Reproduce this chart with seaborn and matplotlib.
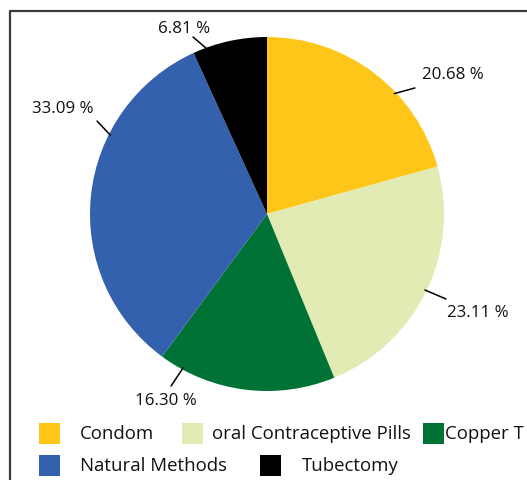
import numpy as np
import matplotlib
matplotlib.use("Agg")
import matplotlib.pyplot as plt
from matplotlib.patches import Rectangle
from matplotlib.lines import Line2D
import seaborn as sns

# Share of contraceptive methods used (%)
methods = ["Condom", "oral Contraceptive Pills", "Copper T", "Natural Methods", "Tubectomy"]
shares = [20.68, 23.11, 16.30, 33.09, 6.81]
colors = ["#FFC61A", "#E2EBB3", "#007236", "#3461AE", "#000000"]

# Callout layout (pie radius = 1): angle where each leader touches the pie,
# the leader's outer end, and the label centre
leader_angle = [43.4, -25.7, -118.6, 153.3, 109.9]
leader_end = [(0.836, 0.712), (1.011, -0.480), (-0.542, -0.972), (-0.960, 0.525), (-0.418, 1.000)]
label_pos = [(1.051, 0.791), (1.192, -0.554), (-0.571, -1.051), (-1.153, 0.599), (-0.469, 1.051)]

# Legend layout in figure pixels: (swatch left, row centre y, text left)
legend_slots = [(39, 434, 80), (182, 434, 212), (423, 434, 445), (39, 466, 80), (260, 466, 302)]

sns.set_theme(style="white")
plt.rcParams["font.family"] = ["Open Sans", "DejaVu Sans"]

W, H = 527, 481
fig = plt.figure(figsize=(W / 100, H / 100), dpi=100)
fig.patch.set_facecolor("white")

cx, cy, r = 267, 215, 177
ax = fig.add_axes([(cx - r) / W, (H - cy - r) / H, 2 * r / W, 2 * r / H])
ax.pie(shares, colors=colors, startangle=90, counterclock=False, radius=1,
       wedgeprops=dict(linewidth=0, antialiased=True))
ax.set_xlim(-1, 1)
ax.set_ylim(-1, 1)
ax.set_aspect("equal")
ax.axis("off")

for val, ang, end, pos in zip(shares, leader_angle, leader_end, label_pos):
    a = np.deg2rad(ang)
    edge = (0.99 * np.cos(a), 0.99 * np.sin(a))
    ax.annotate("", xy=edge, xytext=end, annotation_clip=False,
                arrowprops=dict(arrowstyle="-", lw=1.1, color="black",
                                shrinkA=0, shrinkB=0))
    ax.text(pos[0], pos[1], f"{val:.2f} %", ha="center", va="center",
            fontsize=12.2, color="#111111", clip_on=False)

# Outer frame
frame = Line2D([10 / W, 10 / W, 1.0], [0.0, 1 - 12 / H, 1 - 12 / H],
               transform=fig.transFigure, color="#3c3c3c", lw=1.6)
fig.add_artist(frame)

# Legend swatches and names
sw = 21
for name, col, (x0, yc, tx) in zip(methods, colors, legend_slots):
    fig.add_artist(Rectangle((x0 / W, (H - yc - sw / 2) / H), sw / W, sw / H,
                             transform=fig.transFigure, facecolor=col,
                             edgecolor="none"))
    fig.text(tx / W, (H - yc) / H, name, ha="left", va="center",
             fontsize=13.4, color="#111111")

fig.savefig("out.png", dpi=100)
